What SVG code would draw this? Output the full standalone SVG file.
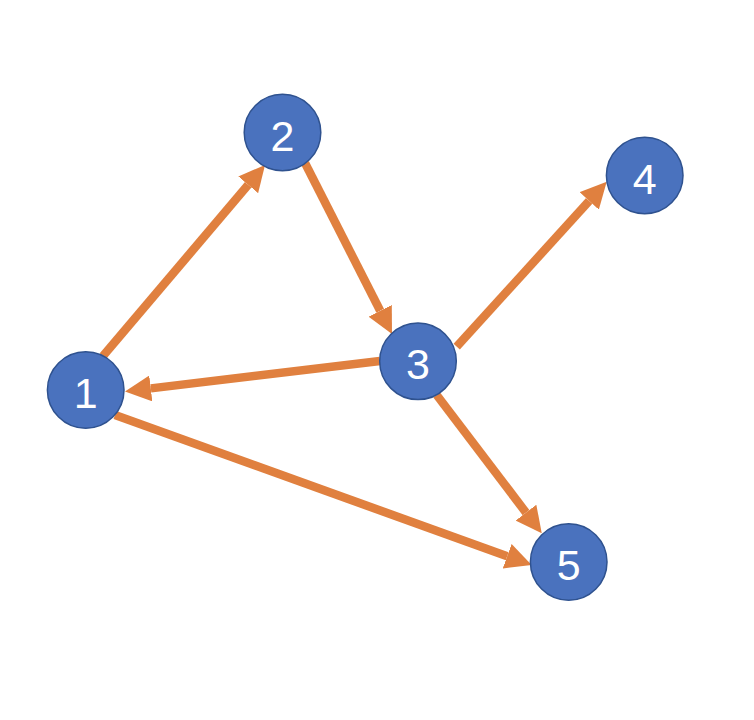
<svg xmlns="http://www.w3.org/2000/svg" width="754" height="720" viewBox="0 0 754 720">
<style>
.node circle{fill:#4A72BE;stroke:#2F528F;stroke-width:1.5}
.node text{fill:#FFFFFF;font-family:"Liberation Sans","Noto Sans",sans-serif;font-size:43px;text-anchor:middle}
.edge{stroke:#E0803F;stroke-width:8.5;fill:none;marker-end:url(#ah)}
</style>
<defs>
<marker id="ah" markerUnits="userSpaceOnUse" markerWidth="26" markerHeight="26" refX="0" refY="13" orient="auto" viewBox="0 0 26 26">
<path d="M0,0 L26,13 L0,26 z" fill="#E0803F"/>
</marker>
</defs>
<rect width="754" height="720" fill="#FFFFFF"/>
<g id="connectors">
<line class="edge" x1="103" y1="356" x2="248.2" y2="184.8"/>
<line class="edge" x1="305" y1="163" x2="380.2" y2="310.8"/>
<line class="edge" x1="380" y1="361" x2="150.8" y2="388.4"/>
<line class="edge" x1="456.7" y1="346.7" x2="589.2" y2="200.9"/>
<line class="edge" x1="436.7" y1="395" x2="526" y2="512.6"/>
<line class="edge" x1="115" y1="415" x2="507.2" y2="556.2"/>
</g>
<g id="node1" class="node"><circle cx="85.7" cy="390" r="38.3"/><text x="85.7" y="408">1</text></g>
<g id="node2" class="node"><circle cx="282.5" cy="132.5" r="38.3"/><text x="282.5" y="150.5">2</text></g>
<g id="node3" class="node"><circle cx="418" cy="361.3" r="38.3"/><text x="418" y="379.3">3</text></g>
<g id="node4" class="node"><circle cx="644.7" cy="175.5" r="38.3"/><text x="644.7" y="193.5">4</text></g>
<g id="node5" class="node"><circle cx="568.7" cy="562" r="38.3"/><text x="568.7" y="580">5</text></g>
</svg>
